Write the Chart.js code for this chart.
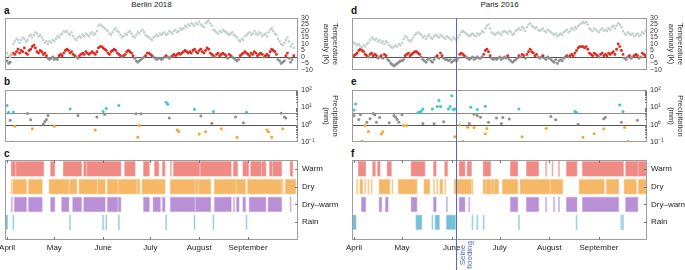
<!DOCTYPE html>
<html>
<head>
<meta charset="utf-8">
<script src="https://cdn.jsdelivr.net/npm/chart.js@4.4.1/dist/chart.umd.min.js"></script>
<style>
body { margin: 0; background: #fff; }
#fig { position: relative; width: 685px; height: 270px; overflow: hidden; font-family: 'Liberation Sans', Arial, sans-serif; color: #222; }
#fig canvas { position: absolute; }
.ttl { position: absolute; font-size: 8px; line-height: 8px; text-align: center; white-space: nowrap; }
.pl { position: absolute; font-size: 10px; line-height: 10px; font-weight: bold; color: #111; }
</style>
</head>
<body>
<div id="fig">
  <div class="ttl" style="left:5px;width:293px;top:1px">Berlin 2018</div>
  <div class="ttl" style="left:352px;width:295px;top:1px">Paris 2016</div>
  <div class="pl" style="left:4px;top:6px">a</div>
  <div class="pl" style="left:4px;top:77px">b</div>
  <div class="pl" style="left:4px;top:149px">c</div>
  <div class="pl" style="left:351px;top:6px">d</div>
  <div class="pl" style="left:351px;top:77px">e</div>
  <div class="pl" style="left:351px;top:149px">f</div>
  <canvas id="ca" width="340" height="80" style="left:0;top:0"></canvas>
  <canvas id="cb" width="340" height="70" style="left:0;top:80px"></canvas>
  <canvas id="cc" width="340" height="120" style="left:0;top:150px"></canvas>
  <canvas id="cd" width="345" height="80" style="left:340px;top:0"></canvas>
  <canvas id="ce" width="345" height="70" style="left:340px;top:80px"></canvas>
  <canvas id="cf" width="345" height="120" style="left:340px;top:150px"></canvas>
</div>
<script>
// daily values, index 0 = 1 April
const berlinTemp = [
  3, 1, 0, 2, 10, 12, 14, 13, 11, 13, 15, 14, 12, 13, 16, 17, 15, 17, 19, 18,
  16, 17, 15, 13, 11, 12, 10, 12, 11, 13, 12, 14, 16, 15, 17, 18, 20, 19, 20, 18,
  17, 19, 16, 14, 13, 15, 16, 15, 17, 16, 18, 17, 16, 18, 19, 17, 18, 20, 24, 25,
  24, 23, 22, 21, 20, 18, 17, 19, 21, 22, 20, 19, 17, 15, 16, 18, 17, 19, 20, 18,
  16, 15, 17, 19, 18, 20, 21, 19, 17, 16, 15, 14, 13, 15, 16, 17, 16, 18, 17, 18,
  19, 17, 18, 20, 19, 18, 20, 21, 19, 20, 22, 21, 22, 24, 23, 25, 24, 26, 25, 24,
  26, 25, 27, 25, 24, 23, 26, 27, 28, 26, 24, 21, 20, 19, 18, 20, 19, 21, 20, 19,
  18, 17, 18, 19, 17, 16, 15, 13, 12, 14, 13, 16, 17, 18, 19, 17, 18, 20, 18, 17,
  19, 18, 16, 17, 18, 16, 19, 21, 22, 20, 18, 17, 14, 12, 10, 9, 11, 13, 15, 12,
  8, 10, 7
];
const berlinAnom = [
  -3, -5, -4, 2, 3, 2, 4, 6, 3, 5, 4, 7, 3, 2, 5, 6, 8, 9, 7, 4,
  3, 5, 4, 2, 3, 1, -1, -2, -1, 0, -2, -1, -2, 1, 2, 1, 3, 5, 6, 5,
  3, 4, 2, 1, 0, -1, 1, 2, 3, 2, 4, 3, 2, 3, 4, 3, 2, 4, 7, 8,
  8, 7, 6, 5, 3, 2, 4, 5, 6, 5, 3, 2, 1, 0, 1, 2, 4, 5, 4, 3,
  1, -1, -3, -4, -3, -2, -1, 0, 1, 3, 3, 2, 1, 0, -1, -2, -1, -1, -2, -1,
  0, 1, 0, -1, 0, 1, 2, 1, 2, 3, 2, 3, 4, 5, 4, 3, 4, 3, 5, 6,
  4, 3, 5, 6, 4, 3, 5, 7, 6, 3, 2, 1, 0, 2, 3, 1, 2, 3, 2, 1,
  -1, 2, 1, 0, -1, -2, -3, -2, 1, 2, 3, 4, 3, 2, 1, 3, 2, 4, 3, 1,
  2, 3, 2, 0, 1, 2, 1, 4, 6, 5, 4, 2, -2, -3, -5, -4, -3, 1, 3, -1,
  -4, -2, 1
];
const parisTemp = [
  11, 10, 9, 10, 8, 7, 9, 8, 10, 11, 13, 15, 14, 13, 14, 12, 13, 11, 12, 10,
  12, 11, 9, 8, 7, 8, 9, 8, 10, 9, 11, 14, 16, 15, 13, 12, 13, 15, 17, 18,
  19, 18, 17, 15, 16, 14, 16, 17, 15, 14, 16, 17, 16, 15, 17, 16, 15, 14, 16, 15,
  14, 13, 15, 14, 13, 15, 17, 19, 20, 19, 18, 17, 16, 17, 18, 17, 16, 18, 17, 18,
  20, 19, 22, 24, 25, 22, 19, 18, 17, 18, 19, 18, 17, 19, 20, 19, 18, 20, 19, 17,
  18, 20, 21, 22, 21, 23, 22, 20, 23, 25, 26, 24, 23, 22, 23, 21, 20, 21, 22, 20,
  19, 21, 20, 19, 18, 17, 18, 16, 17, 18, 17, 19, 20, 21, 19, 20, 22, 21, 23, 22,
  24, 25, 26, 27, 26, 27, 25, 22, 21, 20, 22, 21, 20, 19, 21, 22, 20, 21, 20, 22,
  21, 23, 24, 22, 24, 26, 25, 23, 20, 18, 17, 19, 18, 17, 18, 16, 17, 18, 16, 17,
  19, 18, 20
];
const parisAnom = [
  1, 2, 3, 5, 6, 5, 4, 2, 1, 0, 2, 3, 1, 2, 1, -1, 0, 1, -1, 2,
  1, -2, -3, -5, -6, -7, -6, -5, -4, -3, -3, -2, 1, 2, 3, 1, 2, 3, 4, 4,
  3, 2, 0, -2, -3, -4, -2, -1, -3, -4, -2, 0, 1, -1, 3, 1, -1, -2, -2, -3,
  -2, -4, -3, -2, -3, -1, 2, 3, 2, 1, 0, -1, -2, -1, 0, -2, -1, 0, -1, -1,
  0, 2, 5, 6, 4, 1, -1, -2, -1, -2, -1, 0, -2, -1, 0, -1, 1, -2, -3, -4,
  -3, -2, -1, 1, 0, 2, 1, -1, 2, 4, 6, 4, 3, 1, 2, 0, -1, 0, 1, -1,
  -2, 0, -1, -2, -3, -4, -2, -5, -3, -2, -3, -1, 0, 1, 0, 1, 2, 1, 3, 5,
  7, 8, 8, 8, 7, 8, 6, 3, 2, 1, 3, 2, 1, 0, 2, 3, 1, 2, 1, 3,
  2, 3, 4, 2, 6, 10, 8, 5, 2, -1, -2, 0, 1, -1, 0, 1, 2, 1, -1, 0,
  3, 2, 1
];

// precipitation [day, mm], split the way the figure colours them
const berlinWet = [[0, 12.6], [1, 5.2], [4, 5.3], [40, 8.1], [61, 5.8], [63, 8.5], [71, 12.6], [101, 19.6], [102, 15], [119, 7.8], [131, 5.7], [152, 5.2]];
const berlinMid = [[2, 1.8], [13, 4.4], [15, 1.9], [23, 1.1], [24, 1.5], [25, 2.0], [26, 3.4], [45, 3.4], [57, 2.8], [62, 4.0], [82, 4.3], [85, 4.3], [103, 2.4], [123, 3.2], [130, 1.2], [145, 2.8], [150, 1.3], [174, 4.6], [176, 2.8], [177, 2.4]];
const berlinDry = [[3, 0.1], [5, 0.8], [16, 0.58], [30, 0.8], [56, 0.49], [83, 0.19], [84, 0.9], [108, 0.49], [109, 0.41], [122, 0.29], [126, 0.39], [136, 0.58], [146, 0.19], [165, 0.49], [166, 0.39], [168, 0.19], [175, 0.58]];
const parisWet = [[0, 7.1], [1, 15.7], [40, 5.1], [41, 5.2], [42, 6.2], [43, 8.1], [49, 8.1], [52, 11.1], [53, 24.4], [54, 11.1], [59, 8.1], [60, 11.1], [61, 47], [62, 7.4], [63, 8.1], [73, 10.1], [77, 7.4], [82, 11.6], [103, 8.1], [138, 5.7], [139, 5.1], [166, 13.8], [168, 5.7]];
const parisMid = [[0, 3.4], [3, 2.0], [4, 3.7], [8, 1.4], [10, 2.2], [12, 4.4], [13, 3.7], [14, 1.4], [16, 2.6], [22, 1.3], [25, 3.4], [26, 2.7], [27, 2.0], [28, 1.4], [30, 3.7], [43, 1.17], [50, 1.12], [56, 1.46], [72, 1.17], [75, 4.0], [77, 3.4], [79, 2.7], [84, 1.4], [89, 2.4], [92, 1.17], [93, 2.6], [97, 2.1], [123, 2.95], [126, 1.9], [140, 1.07], [156, 2.2], [157, 2.7], [167, 1.4], [177, 1.8]];
const parisDry = [[5, 0.11], [7, 0.9], [9, 0.41], [17, 0.29], [18, 0.39], [31, 0.9], [33, 0.9], [63, 0.2], [66, 0.95], [68, 0.11], [71, 0.72], [75, 0.69], [82, 0.3], [83, 0.6], [105, 0.2], [120, 0.6], [143, 0.19], [150, 0.3], [156, 0.58], [169, 0.69], [171, 0.11]];

// flagged day ranges [first, last]
const berlinWarm = [[3, 5], [6, 23], [28, 30], [36, 47], [49, 50], [51, 72], [75, 81], [87, 90], [94, 96], [99, 100], [104, 104], [106, 122], [123, 142], [144, 146], [150, 153], [155, 161], [162, 164], [167, 168], [169, 174], [180, 181]];
const berlinDryDays = [[3, 3], [4, 12], [14, 22], [27, 39], [40, 44], [46, 57], [58, 62], [64, 70], [71, 82], [83, 84], [86, 100], [104, 119], [120, 121], [122, 129], [132, 145], [146, 151], [153, 174], [175, 175], [177, 183]];
const berlinDryWarm = [[3, 3], [5, 12], [14, 22], [28, 30], [35, 39], [42, 47], [49, 62], [64, 70], [71, 72], [87, 90], [93, 97], [99, 100], [104, 119], [120, 129], [132, 142], [144, 144], [146, 147], [150, 151], [154, 164], [166, 174], [180, 180]];
const berlinRain = [[-1, 0], [4, 4], [40, 40], [61, 61], [63, 63], [71, 71], [101, 101], [119, 119], [131, 131], [152, 152]];
const parisWarm = [[3, 7], [12, 13], [15, 16], [21, 23], [36, 44], [50, 51], [57, 58], [66, 69], [71, 73], [81, 85], [98, 102], [108, 115], [120, 120], [124, 124], [128, 128], [133, 139], [143, 168], [170, 177], [178, 182]];
const parisDryDays = [[2, 2], [4, 5], [7, 7], [9, 9], [11, 11], [16, 22], [24, 24], [28, 39], [44, 47], [50, 50], [52, 52], [54, 55], [57, 57], [63, 73], [74, 74], [81, 82], [83, 85], [86, 87], [88, 90], [93, 102], [104, 122], [123, 130], [141, 156], [158, 165], [169, 176], [178, 182]];
const parisDryWarm = [[5, 7], [16, 17], [20, 21], [36, 39], [50, 51], [58, 58], [66, 69], [72, 72], [98, 102], [108, 115], [120, 120], [125, 125], [128, 128], [133, 139], [143, 165], [170, 177]];
const parisRain = [[-1, 1], [39, 42], [49, 49], [51, 53], [58, 63], [74, 74], [77, 77], [81, 81], [103, 103], [139, 139], [167, 167], [168, 168]];

const categories = ['Warm', 'Dry', 'Dry\u2013warm', 'Rain'];
const monthStarts = [0, 30, 61, 91, 122, 153];
const monthNames = ['April', 'May', 'June', 'July', 'August', 'September'];
const tempTicks = [-10, -5, 0, 5, 10, 15, 20, 25, 30];
const precipTicks = [0.1, 1, 10, 100];
const precipTickLabels = ['10\u207B\u00B9', '10\u2070', '10\u00B9', '10\u00B2'];
const floodDay = 64; // Seine flooding, 3 June 2016

Chart.defaults.font.family = "'Liberation Sans', Arial, sans-serif";
Chart.defaults.color = '#222';

const BLUE = '#4f6cb5';

// frame, reference lines, inward ticks and the flood marker
const frame = {
  id: 'frame',
  beforeDatasetsDraw(chart, args, o) {
    const {ctx, chartArea: a} = chart;
    ctx.save();
    (o.hlines || []).forEach(h => {
      const y = Math.round(chart.scales.y.getPixelForValue(h.v)) + 0.5;
      ctx.strokeStyle = h.c;
      ctx.lineWidth = 1;
      ctx.beginPath(); ctx.moveTo(a.left, y); ctx.lineTo(a.right, y); ctx.stroke();
    });
    ctx.restore();
  },
  afterDraw(chart, args, o) {
    const {ctx, chartArea: a} = chart;
    ctx.save();
    ctx.strokeStyle = '#9c9c9c';
    ctx.lineWidth = 1;
    ctx.strokeRect(Math.round(a.left) + 0.5, Math.round(a.top) + 0.5, Math.round(a.right - a.left) - 1, Math.round(a.bottom - a.top) - 1);
    ctx.strokeStyle = '#777';
    ctx.beginPath();
    (o.xTicks || []).forEach(t => {
      const x = Math.round(chart.scales.x.getPixelForValue(t)) + 0.5;
      ctx.moveTo(x, a.top); ctx.lineTo(x, a.top + 3);
      ctx.moveTo(x, a.bottom); ctx.lineTo(x, a.bottom - 3);
    });
    (o.yTicks || []).forEach(t => {
      const y = Math.round(chart.scales.y.getPixelForValue(t.v)) + 0.5;
      ctx.moveTo(a.right, y); ctx.lineTo(a.right - t.len, y);
    });
    ctx.stroke();
    if (o.flood != null) {
      const x = Math.round(chart.scales.x.getPixelForValue(o.flood)) + 0.5;
      ctx.strokeStyle = BLUE;
      ctx.beginPath(); ctx.moveTo(x, o.floodFromArea ? a.top : 0); ctx.lineTo(x, chart.height); ctx.stroke();
      if (o.floodText) {
        ctx.fillStyle = BLUE;
        ctx.font = "8px 'Liberation Sans', Arial, sans-serif";
        ctx.textAlign = 'center';
        ctx.textBaseline = 'middle';
        ctx.translate(x, o.floodTextY);
        ctx.rotate(-Math.PI / 2);
        o.floodText.forEach((t, i) => ctx.fillText(t, 0, 6 + i * 7.5));
      }
    }
    ctx.restore();
  }
};

function rightAxis(w, extra) {
  return Object.assign({
    position: 'right',
    offset: false,
    grid: {display: false, drawTicks: false, offset: false},
    border: {display: false},
    afterFit: s => { s.width = w; s.paddingTop = 0; s.paddingBottom = 0; }
  }, extra);
}

function tempChart(id, temp, anom, xr, padLeft, axisW, flood) {
  const tPts = temp.map((v, i) => ({x: i, y: v}));
  const aPts = anom.map((v, i) => ({x: i, y: v}));
  const aCol = anom.map(v => v > 0 ? '#e3271d' : '#8d8d8d');
  return new Chart(document.getElementById(id), {
    type: 'scatter',
    data: {datasets: [
      {data: tPts, pointRadius: 1.3, pointBorderWidth: 0, backgroundColor: '#c2d1cc'},
      {data: aPts, pointRadius: 1.45, pointBorderWidth: 0, backgroundColor: aCol}
    ]},
    options: {
      responsive: false, animation: false,
      layout: {padding: {left: padLeft, top: 18, right: 0, bottom: 10}},
      plugins: {legend: {display: false}, tooltip: {enabled: false},
        frame: {hlines: [{v: 0, c: '#555'}], flood: flood, floodFromArea: true}},
      scales: {
        x: {type: 'linear', display: false, min: xr[0], max: xr[1]},
        y: rightAxis(axisW, {
          type: 'linear', min: -10, max: 30,
          afterBuildTicks: s => { s.ticks = tempTicks.map(v => ({value: v})); },
          ticks: {autoSkip: false, padding: 3, font: {size: 7, lineHeight: 1}, color: '#333',
            callback: v => v < 0 ? '\u2212' + (-v) : String(v)},
          title: {display: true, text: ['Temperature', 'anomaly (K)'], font: {size: 7.5, lineHeight: 1.2}, padding: 0, color: '#333'}
        })
      }
    },
    plugins: [frame]
  });
}

function precipChart(id, wet, mid, dry, xr, padLeft, axisW, flood) {
  const pts = arr => arr.map(p => ({x: p[0], y: p[1]}));
  const minor = [];
  [0.1, 1, 10].forEach(d => { for (let k = 2; k <= 9; k++) minor.push({v: d * k, len: 2}); });
  return new Chart(document.getElementById(id), {
    type: 'scatter',
    data: {datasets: [
      {data: pts(mid), pointRadius: 1.5, pointBorderWidth: 0, backgroundColor: '#8e8e8e'},
      {data: pts(dry), pointRadius: 1.5, pointBorderWidth: 0, backgroundColor: '#f5a623'},
      {data: pts(wet), pointRadius: 1.5, pointBorderWidth: 0, backgroundColor: '#3fc6cc'}
    ]},
    options: {
      responsive: false, animation: false,
      layout: {padding: {left: padLeft, top: 10, right: 0, bottom: 8}},
      plugins: {legend: {display: false}, tooltip: {enabled: false},
        frame: {hlines: [{v: 5, c: '#8a8a8a'}, {v: 1, c: '#555'}], yTicks: minor, flood: flood}},
      scales: {
        x: {type: 'linear', display: false, min: xr[0], max: xr[1]},
        y: rightAxis(axisW, {
          type: 'logarithmic', min: 0.1, max: 100,
          afterBuildTicks: s => { s.ticks = precipTicks.map(v => ({value: v})); },
          ticks: {autoSkip: false, padding: 3, font: {size: 7.5}, color: '#333',
            callback: v => precipTickLabels[precipTicks.indexOf(v)]},
          title: {display: true, text: ['Precipitation', '(mm)'], font: {size: 7.5, lineHeight: 1.2}, padding: 0, color: '#333'}
        })
      }
    },
    plugins: [frame]
  });
}

function flagChart(id, rows, xr, padLeft, axisW, flood) {
  const colours = [['#ef8a84', '#f7bdb9'], ['#f6b766', '#fad5a3'], ['#b98fd5', '#dac4ea'], ['#74bfdb', '#b9dfed']];
  const datasets = rows.map((r, i) => ({
    data: r.map(([s, e]) => ({x: [s - 0.5, e + 0.5], y: i})),
    backgroundColor: colours[i][0], borderColor: colours[i][1], borderWidth: 0.8, borderSkipped: false,
    barThickness: 15, maxBarThickness: 15, grouped: false
  }));
  return new Chart(document.getElementById(id), {
    type: 'bar',
    data: {datasets: datasets},
    options: {
      indexAxis: 'y', responsive: false, animation: false,
      layout: {padding: {left: padLeft, top: 10, right: 0, bottom: 0}},
      plugins: {legend: {display: false}, tooltip: {enabled: false},
        frame: {xTicks: monthStarts, yTicks: [0, 1, 2, 3].map(v => ({v: v, len: 3})), flood: flood,
          floodText: flood != null ? ['Seine', 'flooding'] : null, floodTextY: 105}},
      scales: {
        x: {type: 'linear', position: 'bottom', min: xr[0], max: xr[1], offset: false,
          afterBuildTicks: s => { s.ticks = monthStarts.map(v => ({value: v})); },
          afterFit: s => { s.height = 30; s.paddingLeft = 0; s.paddingRight = 0; },
          grid: {display: false, drawTicks: false}, border: {display: false},
          ticks: {autoSkip: false, maxRotation: 0, padding: 3, font: {size: 8}, color: '#222',
            callback: v => monthNames[monthStarts.indexOf(v)]}},
        y: rightAxis(axisW, {
          type: 'linear', min: -0.5, max: 4, reverse: true,
          afterBuildTicks: s => { s.ticks = [0, 1, 2, 3].map(v => ({value: v})); },
          ticks: {autoSkip: false, padding: 4, font: {size: 8}, color: '#222', callback: v => categories[v]}
        })
      }
    },
    plugins: [frame]
  });
}

const xLeft = [-1.3, 184.7];
const xRight = [-1.25, 183];

tempChart('ca', berlinTemp, berlinAnom, xLeft, 5, 42, null);
precipChart('cb', berlinWet, berlinMid, berlinDry, xLeft, 5, 42, null);
flagChart('cc', [berlinWarm, berlinDryDays, berlinDryWarm, berlinRain], xLeft, 5, 42, null);
tempChart('cd', parisTemp, parisAnom, xRight, 12, 38, floodDay);
precipChart('ce', parisWet, parisMid, parisDry, xRight, 12, 38, floodDay);
flagChart('cf', [parisWarm, parisDryDays, parisDryWarm, parisRain], xRight, 12, 38, floodDay);
</script>
</body>
</html>
